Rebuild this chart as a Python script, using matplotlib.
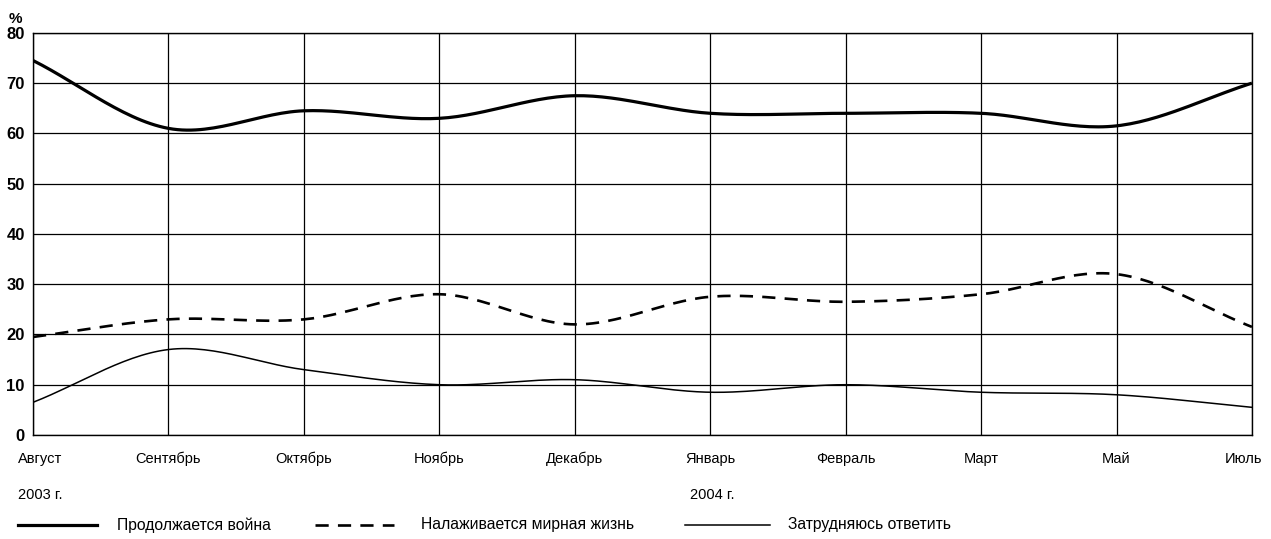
import numpy as np
import matplotlib
matplotlib.use('Agg')
import matplotlib.pyplot as plt
from matplotlib.lines import Line2D

months = ['Август', 'Сентябрь', 'Октябрь', 'Ноябрь', 'Декабрь',
          'Январь', 'Февраль', 'Март', 'Май', 'Июль']
war = [74.5, 61.0, 64.5, 63.0, 67.5, 64.0, 64.0, 64.0, 61.5, 70.0]
peace = [19.5, 23.0, 23.0, 28.0, 22.0, 27.5, 26.5, 28.0, 32.0, 21.5]
unsure = [6.5, 17.0, 13.0, 10.0, 11.0, 8.5, 10.0, 8.5, 8.0, 5.5]
yticks = [0, 10, 20, 30, 40, 50, 60, 70, 80]
series_names = ['Продолжается война', 'Налаживается мирная жизнь', 'Затрудняюсь ответить']

plt.rcParams['font.family'] = ['Liberation Sans', 'DejaVu Sans']


def smooth(y, n=30):
    """Catmull-Rom curve through the points (visual smoothing only)."""
    y = np.asarray(y, float)
    x = np.arange(len(y), dtype=float)
    yp = np.r_[2 * y[0] - y[1], y, 2 * y[-1] - y[-2]]
    xs, ys = [], []
    for i in range(len(y) - 1):
        p0, p1, p2, p3 = yp[i], yp[i + 1], yp[i + 2], yp[i + 3]
        t = np.linspace(0, 1, n, endpoint=False)
        v = 0.5 * ((2 * p1) + (-p0 + p2) * t + (2 * p0 - 5 * p1 + 4 * p2 - p3) * t ** 2
                   + (-p0 + 3 * p1 - 3 * p2 + p3) * t ** 3)
        xs.append(x[i] + t)
        ys.append(v)
    xs.append([x[-1]])
    ys.append([y[-1]])
    return np.concatenate(xs), np.concatenate(ys)


fig = plt.figure(figsize=(12.71, 5.39), dpi=100)
ax = fig.add_axes([0.026, 0.193, 0.959, 0.746])
x = np.arange(len(months))

for v in yticks:
    ax.axhline(v, color='black', lw=0.9, zorder=1)
for xi in x:
    ax.axvline(xi, color='black', lw=0.9, zorder=1)

sx, sy = smooth(war)
ax.plot(sx, sy, color='black', lw=2.3, zorder=3, solid_capstyle='butt')
sx, sy = smooth(peace)
ax.plot(sx, sy, color='black', lw=1.9, ls=(0, (5, 3.5)), zorder=3)
sx, sy = smooth(unsure)
ax.plot(sx, sy, color='black', lw=1.1, zorder=3)

ax.set_xlim(0, len(months) - 1)
ax.set_ylim(0, 80)
for s in ax.spines.values():
    s.set_linewidth(1.0)
ax.set_yticks(yticks)
ax.set_yticklabels([str(v) for v in yticks], fontsize=12, fontweight='bold')
ax.tick_params(axis='y', length=0, pad=6)
ax.set_xticks([])
offsets = [0.05] + [0.0] * (len(months) - 2) + [-0.06]
for xi, m, off in zip(x, months, offsets):
    ax.text(xi + off, -3.3, m, ha='center', va='top', fontsize=10.5)
ax.text(-0.11, -10.6, '2003 г.', ha='left', va='top', fontsize=10.5)
ax.text(4.85, -10.6, '2004 г.', ha='left', va='top', fontsize=10.5)
fig.text(0.007, 0.965, '%', fontsize=11, fontweight='bold', ha='left', va='center')

# legend row
leg_y = 0.026
items = [(0.014, 0.076, dict(lw=2.3, ls='-'), 0.092, series_names[0]),
         (0.248, 0.310, dict(lw=1.9, ls=(0, (5, 3.5))), 0.331, series_names[1]),
         (0.539, 0.606, dict(lw=1.1, ls='-'), 0.620, series_names[2])]
for x0, x1, style, tx, name in items:
    fig.add_artist(Line2D([x0, x1], [leg_y, leg_y], color='black',
                          transform=fig.transFigure, **style))
    fig.text(tx, leg_y, name, fontsize=11.3, ha='left', va='center')

fig.savefig('out.png', dpi=100)
